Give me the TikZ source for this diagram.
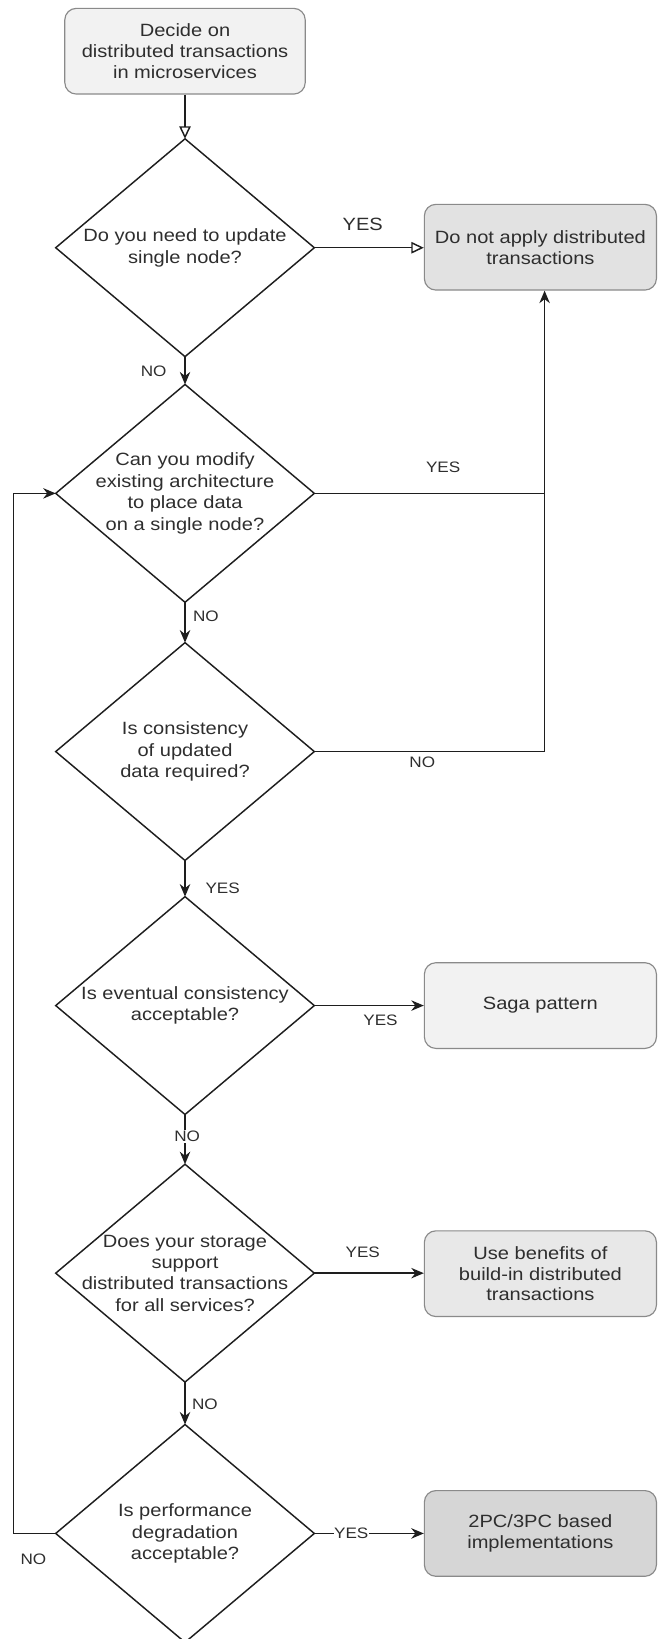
\documentclass[tikz,border=0pt]{standalone}
\usepackage{fontspec}
\setmainfont{Liberation Sans}[FakeStretch=1.13]
\usetikzlibrary{arrows.meta}
\definecolor{txt}{HTML}{2E2E2E}
\definecolor{ln}{HTML}{1E1E1E}
\definecolor{bord}{HTML}{8A8A8A}
\definecolor{fillA}{HTML}{F2F2F2}
\definecolor{fillB}{HTML}{E2E2E2}
\definecolor{fillC}{HTML}{E8E8E8}
\definecolor{fillD}{HTML}{D6D6D6}
\begin{document}
\begin{tikzpicture}[x=1pt,y=-1pt,
  every node/.style={text=txt},
  box/.style={draw=bord, rounded corners=11pt, line width=1.1pt, align=center,
    inner sep=0pt, minimum width=222pt, minimum height=82pt,
    font=\fontsize{17}{20}\selectfont},
  dia/.style={minimum width=247pt, minimum height=208pt, inner sep=0pt,
    align=center, font=\fontsize{17}{20.5}\selectfont},
  lbl/.style={font=\fontsize{14.5}{16}\selectfont, inner sep=1pt},
  arr/.style={draw=ln, line width=1.4pt, -{Stealth[length=12pt,width=10pt]}},
  oarr/.style={draw=ln, line width=1.4pt, -{Triangle[open,length=12pt,width=11pt]}},
  plain/.style={draw=ln, line width=1.4pt}
]
\useasboundingbox (0,0) rectangle (629,1568);

% boxes
\node[box, fill=fillA, minimum width=230pt] (start) at (177,49)
  {Decide on\\distributed transactions\\in microservices};
\node[box, fill=fillB] (noapply) at (517,236.5)
  {Do not apply distributed\\transactions};
\node[box, fill=fillA] (saga) at (517,962) {Saga pattern};
\node[box, fill=fillC] (builtin) at (517,1218.5)
  {Use benefits of\\build-in distributed\\transactions};
\node[box, fill=fillD] (tpc) at (517,1467)
  {2PC/3PC based\\implementations};

% decisions
\node[dia] (d1) at (177,237) {Do you need to update\\single node?};
\node[dia] (d2) at (177,472) {Can you modify\\existing architecture\\to place data\\on a single node?};
\node[dia] (d3) at (177,719) {Is consistency\\of updated\\data required?};
\node[dia] (d4) at (177,962) {Is eventual consistency\\acceptable?};
\node[dia] (d5) at (177,1218) {Does your storage\\support\\distributed transactions\\for all services?};
\node[dia] (d6) at (177,1467) {Is performance\\degradation\\acceptable?};

\foreach \d in {d1,d2,d3,d4,d5,d6}{
  \draw[plain, line join=miter] (\d.north) -- (\d.east) -- (\d.south) -- (\d.west) -- cycle;
}

% junction coordinates
\coordinate (j2) at (521,472);
\coordinate (j3) at (521,719);
\coordinate (fb1) at (13,1467);
\coordinate (fb2) at (13,472);

% connectors
\draw[oarr] (start.south) -- (d1.north);
\draw[oarr] (d1.east) -- (d1.east -| noapply.west);
\draw[arr] (d1.south) -- (d2.north);
\draw[plain] (d2.east) -- (j2);
\draw[arr] (d3.east) -- (j3) -- (noapply.south -| j3);
\draw[arr] (d2.south) -- (d3.north);
\draw[arr] (d3.south) -- (d4.north);
\draw[arr] (d4.east) -- (d4.east -| saga.west);
\draw[arr] (d4.south) -- (d5.north);
\draw[arr] (d5.east) -- (d5.east -| builtin.west);
\draw[arr] (d5.south) -- (d6.north);
\draw[arr] (d6.east) -- (d6.east -| tpc.west);
\draw[arr] (d6.west) -- (fb1) -- (fb2) -- (d2.west);

% labels
\node[lbl, font=\fontsize{17}{20}\selectfont] (l1) at (347,215) {YES};
\node[lbl] (l2) at (147,355) {NO};
\node[lbl] (l3) at (424,447) {YES};
\node[lbl] (l4) at (197,590) {NO};
\node[lbl] (l5) at (404,729) {NO};
\node[lbl] (l6) at (213,850) {YES};
\node[lbl] (l7) at (364,976) {YES};
\node[lbl, fill=white] (l8) at (179,1087) {NO};
\node[lbl] (l9) at (347,1198) {YES};
\node[lbl] (l10) at (196,1343) {NO};
\node[lbl, fill=white, inner sep=0.5pt] (l11) at (336,1467) {YES};
\node[lbl] (l12) at (32,1492) {NO};
\end{tikzpicture}
\end{document}
